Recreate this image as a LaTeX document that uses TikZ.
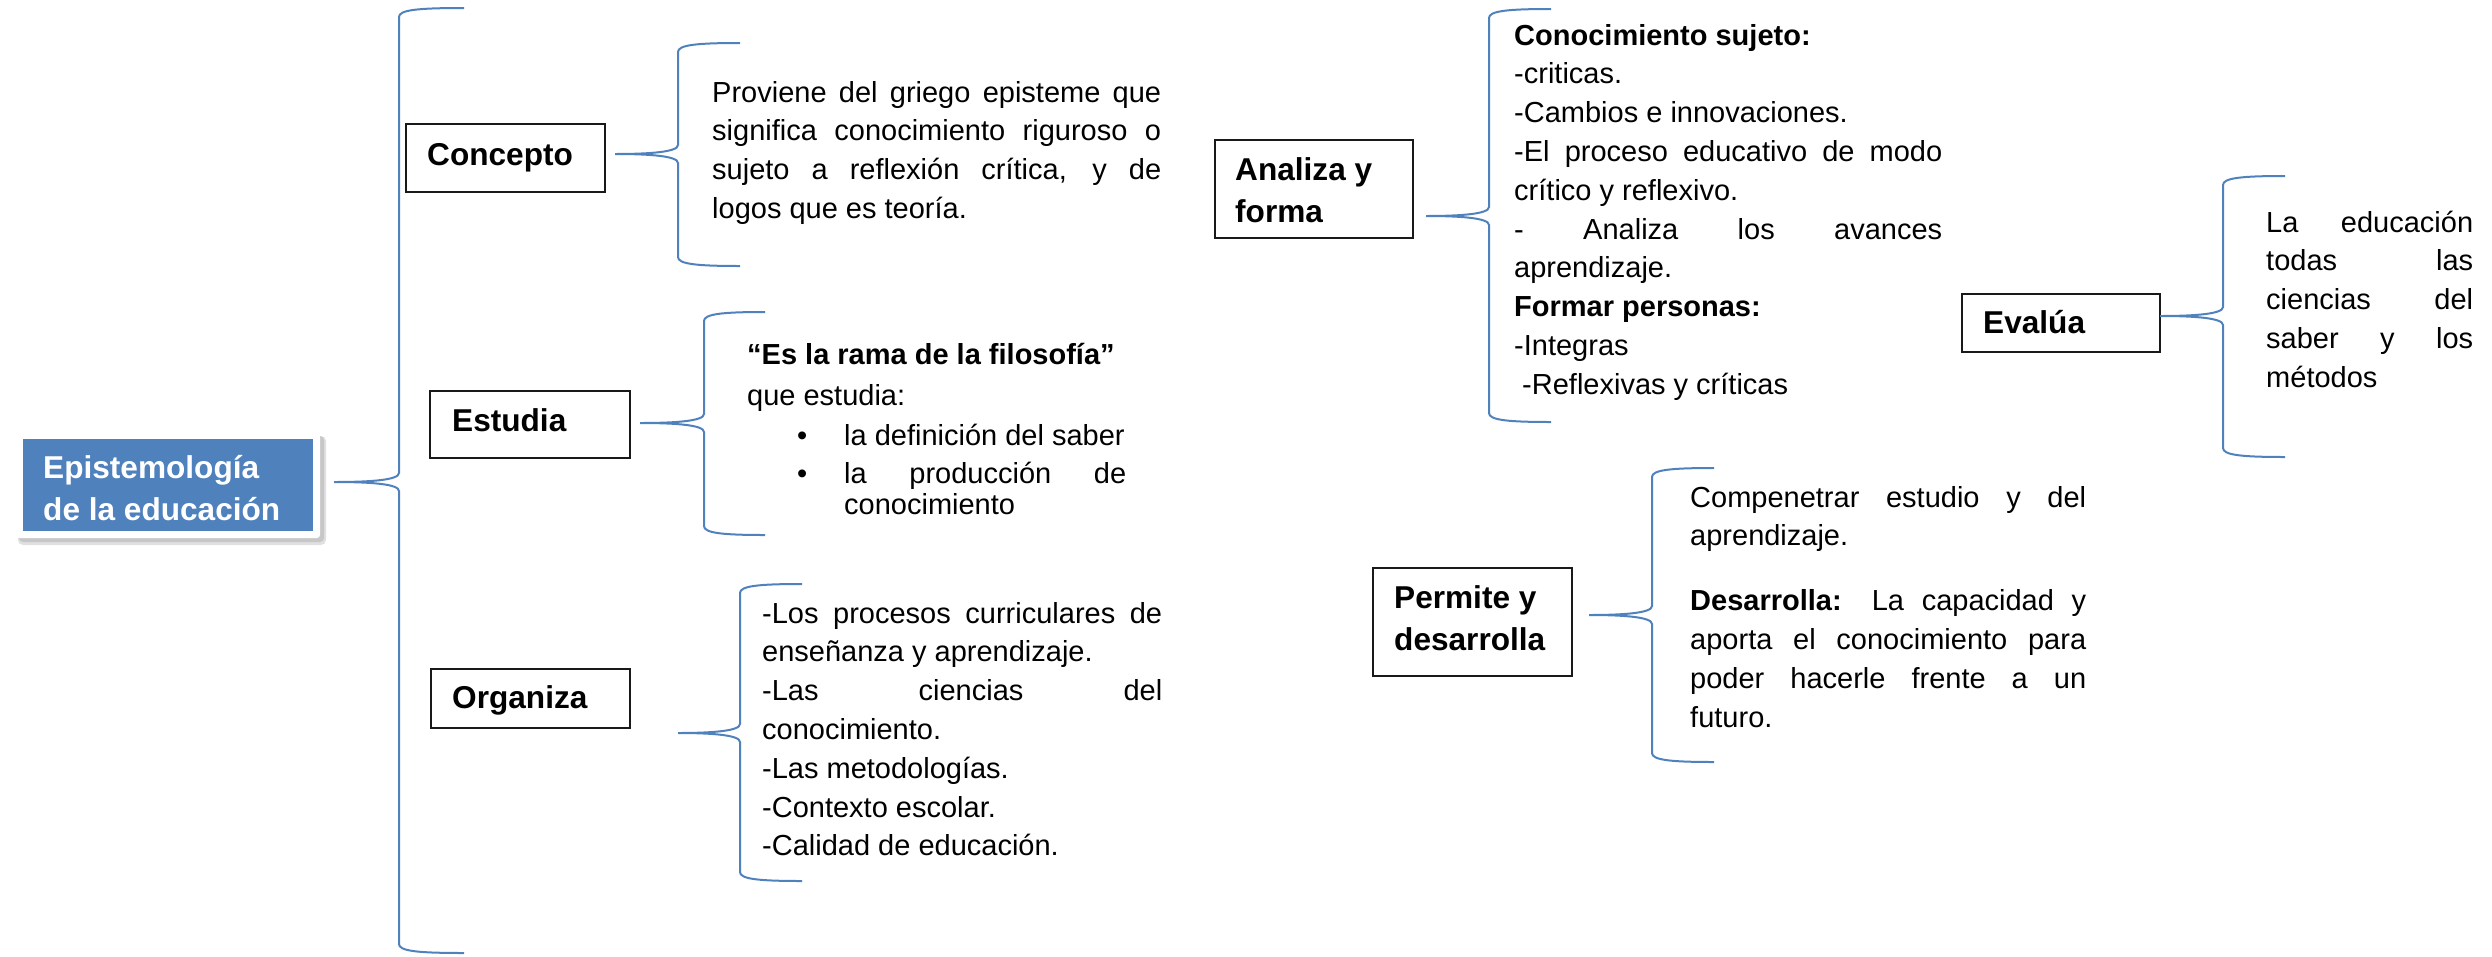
\documentclass[tikz,border=0pt]{standalone}
\usepackage{fontspec}
\setmainfont{Liberation Sans}
\definecolor{accent}{HTML}{4F81BD}
\tikzset{
  brc/.style={draw=accent, line width=2pt},
  lbox/.style={draw=black!90, line width=1.6pt, fill=white, inner sep=0pt},
  lbl/.style={anchor=base west, inner sep=0pt, font=\fontsize{31.6}{42}\selectfont\bfseries},
  body/.style={anchor=base west, inner sep=0pt, font=\fontsize{29}{38.8}\selectfont},
}
\newcommand\jl[1]{\makebox[\linewidth][s]{#1}}
% tip-x, tip-y, vertical-x, top-y, bottom-y, top-end-x, bottom-end-x
\newcommand\mybrace[7]{%
  \draw[brc] (#6,#4) .. controls ({#3+18},#4) and (#3,{#4+2}) .. (#3,{#4+9})
    -- (#3,{#2-9}) .. controls (#3,{#2-2}) and ({#3-28},#2) .. (#1,#2)
    .. controls ({#3-28},#2) and (#3,{#2+2}) .. (#3,{#2+9})
    -- (#3,{#5-9}) .. controls (#3,{#5-2}) and ({#3+18},#5) .. (#7,#5);}
\begin{document}
\begin{tikzpicture}[x=1pt,y=-1pt]
\useasboundingbox (0,0) rectangle (2492,956);

% main box with soft shadow
\fill[black!12, rounded corners=5pt] (18,436) rectangle (326,545);
\fill[black!22, rounded corners=4pt] (19,436) rectangle (324,542);
\fill[white, rounded corners=3pt] (16,432) rectangle (320,538);
\node[fill=accent, inner sep=0pt, minimum width=290pt, minimum height=92pt] (main) at (168,485) {};
\node[anchor=base west, inner sep=0pt, text=white, font=\fontsize{31.6}{42}\selectfont\bfseries] (main-t) at (43,478)
  {\parbox[t]{270pt}{Epistemología\\de la educación}};

% main brace
\mybrace{334}{482}{399}{8}{953}{464}{464}

% label boxes
\node[lbox, minimum width=199pt, minimum height=68pt] (concepto) at (505.5,158) {};
\node[lbl] (concepto-t) at (427,165) {Concepto};
\node[lbox, minimum width=200pt, minimum height=67pt] (estudia) at (530,424.5) {};
\node[lbl] (estudia-t) at (452,431) {Estudia};
\node[lbox, minimum width=199pt, minimum height=59pt] (organiza) at (530.5,698.5) {};
\node[lbl] (organiza-t) at (452,708) {Organiza};
\node[lbox, minimum width=198pt, minimum height=98pt] (analiza) at (1314,189) {};
\node[lbl] (analiza-t) at (1235,180) {\parbox[t]{170pt}{Analiza y\\forma}};
\node[lbox, minimum width=198pt, minimum height=58pt] (evalua) at (2061,323) {};
\node[lbl] (evalua-t) at (1983,333) {Evalúa};
\node[lbox, minimum width=199pt, minimum height=108pt] (permite) at (1472.5,622) {};
\node[lbl] (permite-t) at (1394,608) {\parbox[t]{170pt}{Permite y\\desarrolla}};

% braces
\mybrace{615}{154}{678}{43}{266}{740}{740}
\mybrace{640}{423}{704}{312}{535}{765}{765}
\mybrace{678}{733}{740}{584}{881}{802}{802}
\mybrace{1426}{216}{1489}{9}{422}{1551}{1551}
\mybrace{2160}{316}{2223}{176}{457}{2285}{2285}
\mybrace{1589}{615}{1652}{468}{762}{1714}{1714}

% texts
\node[body] (concepto-d) at (712,102) {\parbox[t]{449pt}{%
  \jl{Proviene del griego episteme que}\\
  \jl{significa conocimiento riguroso o}\\
  \jl{sujeto a reflexión crítica, y de}\\
  logos que es teoría.}};

\node[body] (estudia-d) at (747,364) {\parbox[t]{400pt}{%
  \textbf{“Es la rama de la filosofía”}\\[2.2pt]
  que estudia:\\[1.2pt]
  \hspace*{50pt}\makebox[47pt][l]{•}la definición del saber\\[-0.8pt]
  \hspace*{50pt}\makebox[47pt][l]{•}\makebox[282pt][s]{la producción de}\\[-7.8pt]
  \hspace*{97pt}conocimiento}};

\node[body] (organiza-d) at (762,623) {\parbox[t]{400pt}{%
  \jl{-Los procesos curriculares de}\\
  enseñanza y aprendizaje.\\
  \jl{-Las ciencias del}\\
  conocimiento.\\
  -Las metodologías.\\
  -Contexto escolar.\\
  -Calidad de educación.}};

\node[body] (analiza-d) at (1514,45) {\parbox[t]{428pt}{%
  \textbf{Conocimiento sujeto:}\\
  -criticas.\\
  -Cambios e innovaciones.\\
  \jl{-El proceso educativo de modo}\\
  crítico y reflexivo.\\
  \jl{- Analiza los avances}\\
  aprendizaje.\\
  \textbf{Formar personas:}\\
  -Integras\\
  \hspace*{8pt}-Reflexivas y críticas}};

\node[body] (evalua-d) at (2266,232) {\parbox[t]{207pt}{%
  \jl{La educación}\\
  \jl{todas las}\\
  \jl{ciencias del}\\
  \jl{saber y los}\\
  métodos}};

\node[body] (permite-d) at (1690,507) {\parbox[t]{396pt}{%
  \jl{Compenetrar estudio y del}\\
  aprendizaje.\\[26pt]
  \jl{\textbf{Desarrolla:} La capacidad y}\\
  \jl{aporta el conocimiento para}\\
  \jl{poder hacerle frente a un}\\
  futuro.}};
\end{tikzpicture}
\end{document}
